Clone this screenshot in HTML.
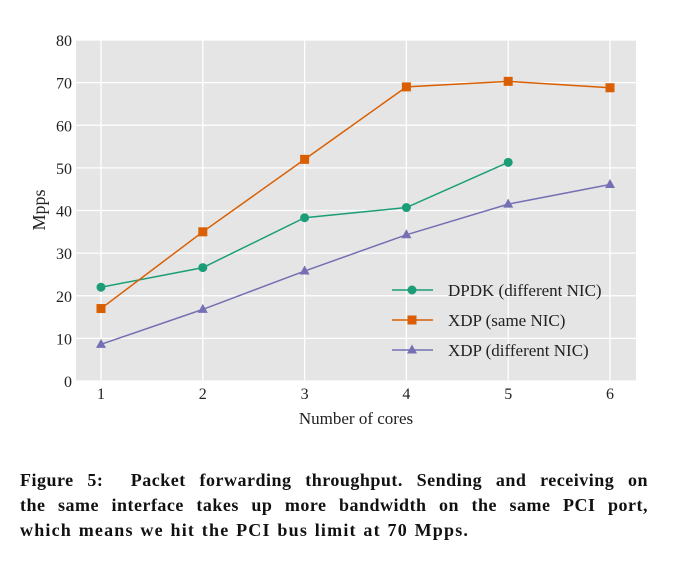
<!DOCTYPE html>
<html><head><meta charset="utf-8"><style>
body{margin:0;background:#fff;width:688px;height:564px;overflow:hidden;font-family:"Liberation Serif",serif}
#cap{position:absolute;left:20px;top:468px;width:628px;font-weight:bold;font-size:18px;letter-spacing:0.5px;line-height:25px;color:#111}
#cap div{text-align:justify;text-align-last:justify;white-space:nowrap}
#cap div.last{text-align-last:left;letter-spacing:1.2px;word-spacing:1px}
</style></head><body>
<svg id="chart" width="688" height="460" style="position:absolute;left:0;top:0" font-family="Liberation Serif, serif"></svg>
<div id="cap"><div>Figure 5:&nbsp; Packet forwarding throughput. Sending and receiving on</div><div>the same interface takes up more bandwidth on the same PCI port,</div><div class="last">which means we hit the PCI bus limit at 70 Mpps.</div></div>
<script>
const categories=[1,2,3,4,5,6];
const dpdkDiff=[22,26.6,38.3,40.7,51.3];
const xdpSame=[17,35,52,69,70.3,68.8];
const xdpDiff=[8.6,16.8,25.8,34.3,41.5,46.1];
const yTicks=[0,10,20,30,40,50,60,70,80];
const seriesNames=["DPDK (different NIC)","XDP (same NIC)","XDP (different NIC)"];
const NS="http://www.w3.org/2000/svg";
const svg=document.getElementById('chart');
const L=76,R=636,T=40,B=381;
const xs=c=>101+(c-1)*101.8;
const ys=v=>B-(v/80)*(B-T);
function mk(t,a,p){const e=document.createElementNS(NS,t);for(const k in a)e.setAttribute(k,a[k]);(p||svg).appendChild(e);return e;}
const bg=mk('rect',{x:L,y:T,width:R-L,height:B-T,fill:'#e5e5e5'});


yTicks.forEach(v=>{
 const g=mk('line',{x1:L,x2:R,y1:ys(v),y2:ys(v),stroke:'#fff','stroke-width':1.3});
 
 
 const t=mk('text',{x:72,y:ys(v)+6,'text-anchor':'end','font-size':16,fill:'#222'});t.textContent=v;
 
 
});
categories.forEach(c=>{
 const g=mk('line',{x1:xs(c),x2:xs(c),y1:T,y2:B,stroke:'#fff','stroke-width':1.3});
 
 
 const t=mk('text',{x:xs(c),y:399,'text-anchor':'middle','font-size':16,fill:'#222'});t.textContent=c;
 
 
});
const xl=mk('text',{x:356,y:424,'text-anchor':'middle','font-size':17,fill:'#222'});xl.textContent='Number of cores';


const yl=mk('text',{x:0,y:0,'text-anchor':'middle','font-size':18,fill:'#222',transform:'translate(45,210) rotate(-90)'});yl.textContent='Mpps';


function marker(shape,x,y,col){
 let e;
 if(shape==='circle')e=mk('circle',{cx:x,cy:y,r:4.5,fill:col});
 else if(shape==='square')e=mk('rect',{x:x-4.5,y:y-4.5,width:9,height:9,fill:col});
 else e=mk('polygon',{points:`${x},${y-5.5} ${x+5},${y+3.5} ${x-5},${y+3.5}`,fill:col});
 return e;
}
const series=[[dpdkDiff,'#1b9e77','circle','dpdk-different-nic'],[xdpSame,'#d95f02','square','xdp-same-nic'],[xdpDiff,'#7570b3','triangle','xdp-different-nic']];
series.forEach(([vals,col,shape,nm],i)=>{
 const pts=vals.map((v,j)=>xs(categories[j])+','+ys(v)).join(' ');
 const pl=mk('polyline',{points:pts,fill:'none',stroke:col,'stroke-width':1.5});
 
 
 vals.forEach((v,j)=>{
  const m=marker(shape,xs(categories[j]),ys(v),col);
  
  
 });
 const ly=290+i*30;
 const ll=mk('line',{x1:392,x2:433,y1:ly,y2:ly,stroke:col,'stroke-width':1.5});
 
 
 const lm=marker(shape,412,ly,col);
 
 
 const lt=mk('text',{x:448,y:ly+6,'font-size':17,fill:'#222'});lt.textContent=seriesNames[i];
 
 
});
</script>
</body></html>
